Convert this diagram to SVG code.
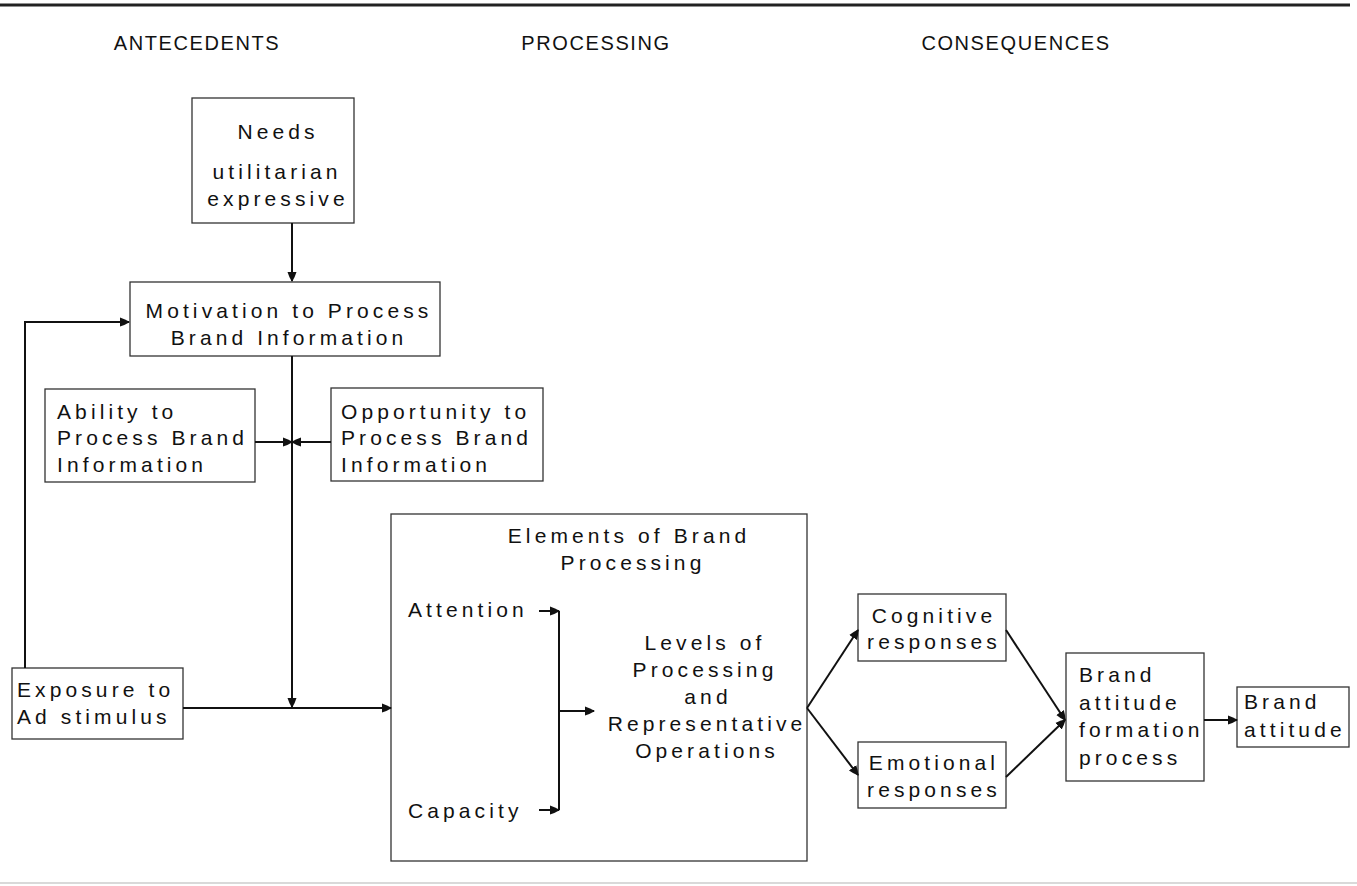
<svg xmlns="http://www.w3.org/2000/svg" width="1357" height="886" viewBox="0 0 1357 886">
<defs>
<style>
text{font-family:"Liberation Sans",Arial,sans-serif;font-size:21px;letter-spacing:4.1px;fill:#111}
.h{font-size:20px;letter-spacing:1.6px}
.c{text-anchor:middle}
rect{fill:#fff;stroke:#333;stroke-width:1.3}
.ln{fill:none;stroke:#111;stroke-width:2}
</style>
<marker id="a" markerUnits="userSpaceOnUse" markerWidth="12" markerHeight="12" refX="9" refY="5" orient="auto">
<path d="M0,0.5 Q5,2 10,5 Q5,8 0,9.5 z" fill="#111"/>
</marker>
</defs>
<rect x="0" y="0" width="1357" height="886" style="fill:#fff;stroke:none"/>
<line x1="0" y1="5" x2="1350" y2="5" stroke="#222" stroke-width="3"/>
<line x1="0" y1="883" x2="1357" y2="883" stroke="#ccc" stroke-width="1.5"/>
<g id="headers">
<text class="h c" x="197" y="50">ANTECEDENTS</text>
<text class="h c" x="596" y="50">PROCESSING</text>
<text class="h c" x="1016" y="50">CONSEQUENCES</text>
</g>
<g id="needs">
<rect x="192" y="98" width="162" height="125"/>
<text class="c" x="278" y="139">Needs</text>
<text class="c" x="277" y="179">utilitarian</text>
<text class="c" x="278" y="206">expressive</text>
</g>
<g id="motivation">
<rect x="130" y="282" width="310" height="74"/>
<text class="c" x="289" y="318">Motivation to Process</text>
<text class="c" x="289" y="345">Brand Information</text>
</g>
<g id="ability">
<rect x="45" y="389" width="210" height="93"/>
<text x="57" y="419">Ability to</text>
<text x="57" y="445">Process Brand</text>
<text x="57" y="472">Information</text>
</g>
<g id="opportunity">
<rect x="331" y="388" width="212" height="93"/>
<text x="341" y="419">Opportunity to</text>
<text x="341" y="445">Process Brand</text>
<text x="341" y="472">Information</text>
</g>
<g id="exposure">
<rect x="12" y="668" width="171" height="71"/>
<text x="17" y="697">Exposure to</text>
<text x="17" y="724">Ad stimulus</text>
</g>
<g id="elements">
<rect x="391" y="514" width="416" height="347"/>
<text class="c" x="629" y="543">Elements of Brand</text>
<text class="c" x="633" y="570">Processing</text>
<text x="408" y="617">Attention</text>
<text x="408" y="818">Capacity</text>
<text class="c" x="705" y="650">Levels of</text>
<text class="c" x="705" y="677">Processing</text>
<text class="c" x="708" y="704">and</text>
<text class="c" x="707" y="731">Representative</text>
<text class="c" x="707" y="758">Operations</text>
</g>
<g id="cognitive">
<rect x="858" y="594" width="148" height="67"/>
<text class="c" x="934" y="623">Cognitive</text>
<text class="c" x="934" y="649">responses</text>
</g>
<g id="emotional">
<rect x="858" y="742" width="148" height="66"/>
<text class="c" x="934" y="770">Emotional</text>
<text class="c" x="934" y="797">responses</text>
</g>
<g id="formation">
<rect x="1066" y="653" width="138" height="128"/>
<text x="1079" y="682">Brand</text>
<text x="1079" y="710">attitude</text>
<text x="1079" y="737">formation</text>
<text x="1079" y="765">process</text>
</g>
<g id="brandattitude">
<rect x="1237" y="687" width="112" height="60"/>
<text x="1244" y="709">Brand</text>
<text x="1244" y="737">attitude</text>
</g>
<g id="connectors">
<path class="ln" d="M292,223 V281" marker-end="url(#a)"/>
<path class="ln" d="M25,668 V322 H129" marker-end="url(#a)"/>
<path class="ln" d="M292,356 V707" marker-end="url(#a)"/>
<path class="ln" d="M255,442 H292" marker-end="url(#a)"/>
<path class="ln" d="M331,442 H292" marker-end="url(#a)"/>
<path class="ln" d="M183,708 H391" marker-end="url(#a)"/>
<path class="ln" d="M539,611 H559" marker-end="url(#a)"/>
<path class="ln" d="M539,810 H559" marker-end="url(#a)"/>
<path class="ln" d="M559,611 V810"/>
<path class="ln" d="M559,711 H594" marker-end="url(#a)"/>
<path class="ln" d="M807,708 L858,630" marker-end="url(#a)"/>
<path class="ln" d="M807,708 L858,775" marker-end="url(#a)"/>
<path class="ln" d="M1006,630 L1065,720" marker-end="url(#a)"/>
<path class="ln" d="M1006,777 L1065,720" marker-end="url(#a)"/>
<path class="ln" d="M1204,720 H1237" marker-end="url(#a)"/>
</g>
</svg>
